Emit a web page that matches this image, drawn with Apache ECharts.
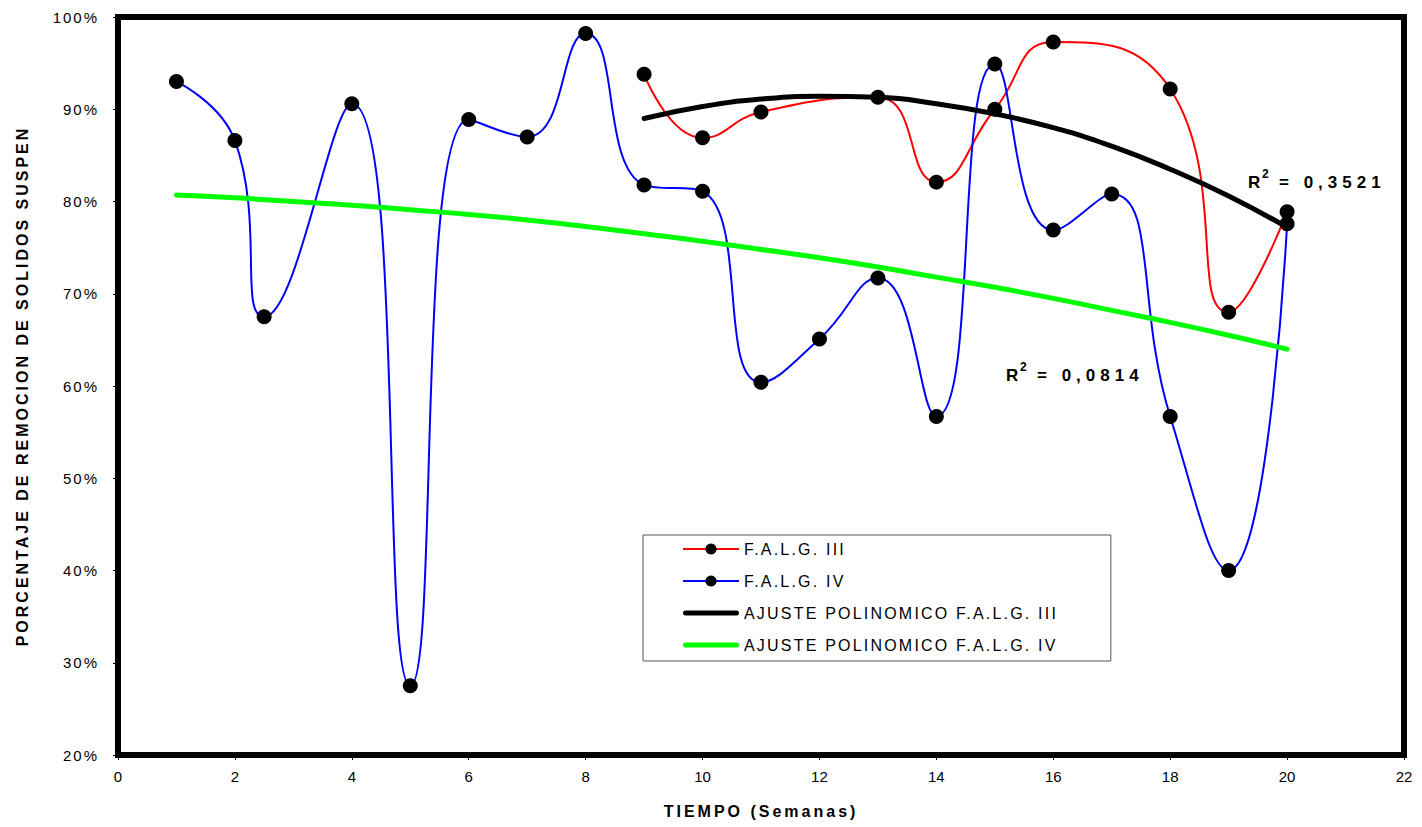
<!DOCTYPE html>
<html>
<head>
<meta charset="utf-8">
<title>Remoción de sólidos suspendidos</title>
<script src="https://cdn.jsdelivr.net/npm/echarts@6/dist/echarts.min.js"></script>
<style>
  html, body { margin: 0; padding: 0; background: #ffffff; }
  #chart { width: 1422px; height: 827px; }
</style>
</head>
<body>
<div id="chart"></div>
<script>
// Removal of suspended solids per week (%), filter F.A.L.G. III
const weeksIII = [9, 10, 11, 13, 14, 15, 16, 18, 19, 20];
const removalIII = [93.8, 86.9, 89.7, 91.3, 82.1, 90.0, 97.3, 92.2, 68.0, 78.9];

// Removal of suspended solids per week (%), filter F.A.L.G. IV
const weeksIV = [1, 2, 2.5, 4, 5, 6, 7, 8, 9, 10, 11, 12, 13, 14, 15, 16, 17, 18, 19, 20];
const removalIV = [93.0, 86.6, 67.5, 90.6, 27.5, 88.9, 87.0, 98.2, 81.8, 81.1,
                   60.4, 65.1, 71.7, 56.7, 94.9, 76.9, 80.8, 56.7, 40.0, 77.6];

// Polynomial trend curves
const trendWeeksIII = [9, 10, 11, 12, 13, 14, 15, 16, 17, 18, 19, 20];
const trendIII = [89.0, 90.3, 91.1, 91.4, 91.3, 90.6, 89.5, 88.0, 86.0, 83.5, 80.6, 77.2];
const trendWeeksIV = [1, 2, 3, 4, 5, 6, 7, 8, 9, 10, 11, 12, 13, 14, 15, 16, 17, 18, 19, 20];
const trendIV = [80.7, 80.4, 80.0, 79.6, 79.1, 78.6, 78.0, 77.3, 76.5, 75.7,
                 74.8, 73.9, 72.9, 71.8, 70.7, 69.5, 68.2, 66.9, 65.5, 64.0];

// Coefficients of determination of both fits
const r2III = '0,3521';
const r2IV = '0,0814';

const seriesNames = ['F.A.L.G. III', 'F.A.L.G. IV', 'AJUSTE POLINOMICO F.A.L.G. III', 'AJUSTE POLINOMICO F.A.L.G. IV'];
const xTitle = 'TIEMPO (Semanas)';
const yTitle = 'PORCENTAJE DE REMOCION DE SOLIDOS SUSPEN';
const xRange = [0, 22, 2];
const yRange = [20, 100, 10];

const FONT = "'Liberation Sans', Arial, sans-serif";
const pairs = (xs, ys) => xs.map((x, i) => [x, ys[i]]);

// thick rounded bar used as legend key of the trend curves
const trendIcon = 'path://M2.5,0 L53.5,0 A2.5,2.5,0,0,1,53.5,5 L2.5,5 A2.5,2.5,0,0,1,2.5,0 Z';

const chart = echarts.init(document.getElementById('chart'), null, { renderer: 'svg' });

// "R² = value" annotation: letter, raised exponent, then the value
const boldText = (text, x, y, size) => ({
  type: 'text', x: x, y: y, z: 100,
  style: { text: text, fontFamily: FONT, fontWeight: 'bold', fontSize: size, verticalAlign: 'middle', fill: '#000' }
});
const r2Label = (value, x, y) => ({
  type: 'group',
  children: [
    boldText('R', x, y, 17),
    boldText('2', x + 14, y - 8, 12),
    boldText('= ' + value, x + 31, y, 17)
  ]
});

chart.setOption({
  animation: false,
  backgroundColor: '#ffffff',
  textStyle: { fontFamily: FONT },
  grid: {
    left: 118, right: 18, top: 17, bottom: 72,
    show: true,
    borderWidth: 6,
    borderColor: '#000',
    backgroundColor: 'transparent'
  },
  xAxis: {
    type: 'value',
    min: xRange[0], max: xRange[1], interval: xRange[2],
    name: xTitle,
    nameLocation: 'middle',
    nameGap: 48,
    nameTextStyle: { fontFamily: FONT, fontWeight: 'bold', fontSize: 16, color: '#000' },
    axisLine: { show: false },
    axisTick: { show: true, length: 5, lineStyle: { color: '#000', width: 1 } },
    axisLabel: { fontFamily: FONT, fontSize: 15, color: '#000', margin: 14 },
    splitLine: { show: false }
  },
  yAxis: {
    type: 'value',
    min: yRange[0], max: yRange[1], interval: yRange[2],
    name: yTitle,
    nameLocation: 'middle',
    nameRotate: 90,
    nameGap: 88,
    nameTextStyle: { fontFamily: FONT, fontWeight: 'bold', fontSize: 16, color: '#000' },
    axisLine: { show: false },
    axisTick: { show: true, length: 5, lineStyle: { color: '#000', width: 1 } },
    axisLabel: { fontFamily: FONT, fontSize: 15, color: '#000', margin: 19, formatter: '{value}%' },
    splitLine: { show: false }
  },
  legend: {
    orient: 'vertical',
    left: 643,
    top: 535,
    padding: [6, 117, 8, 39],
    itemWidth: 56,
    itemHeight: 14,
    itemGap: 16,
    symbolKeepAspect: true,
    borderColor: '#555',
    borderWidth: 1,
    backgroundColor: '#fff',
    textStyle: { fontFamily: FONT, fontSize: 16, color: '#000' },
    data: [
      { name: seriesNames[0] },
      { name: seriesNames[1] },
      { name: seriesNames[2], icon: trendIcon },
      { name: seriesNames[3], icon: trendIcon }
    ]
  },
  series: [
    {
      name: seriesNames[0],
      type: 'line',
      data: pairs(weeksIII, removalIII),
      smooth: 0.5,
      symbol: 'circle',
      symbolSize: 15,
      itemStyle: { color: '#000' },
      lineStyle: { color: '#ff0000', width: 2 },
      z: 3
    },
    {
      name: seriesNames[1],
      type: 'line',
      data: pairs(weeksIV, removalIV),
      smooth: 0.5,
      symbol: 'circle',
      symbolSize: 15,
      itemStyle: { color: '#000' },
      lineStyle: { color: '#0000ff', width: 2 },
      z: 3
    },
    {
      name: seriesNames[2],
      type: 'line',
      data: pairs(trendWeeksIII, trendIII),
      smooth: 0.5,
      symbol: 'none',
      itemStyle: { color: '#000' },
      lineStyle: { color: '#000', width: 5, cap: 'round' },
      z: 4
    },
    {
      name: seriesNames[3],
      type: 'line',
      data: pairs(trendWeeksIV, trendIV),
      smooth: 0.5,
      symbol: 'none',
      itemStyle: { color: '#00ff00' },
      lineStyle: { color: '#00ff00', width: 5, cap: 'round' },
      z: 4
    }
  ],
  graphic: [
    r2Label(r2III, 1248, 182),
    r2Label(r2IV, 1006, 375)
  ]
});

// Wide tracking of the chart's texts
const tracking = [
  [/^\d+%$/, 2],
  [/^(F\.A\.L\.G\.|AJUSTE)/, 2.2],
  [/^(TIEMPO|PORCENTAJE)/, 3],
  [/^= /, 5]
];
function applyTracking() {
  document.querySelectorAll('#chart text').forEach(t => {
    const s = t.textContent;
    for (const [re, px] of tracking) {
      if (re.test(s)) { t.setAttribute('letter-spacing', px); break; }
    }
  });
}
chart.on('finished', applyTracking);
applyTracking();
</script>
</body>
</html>
